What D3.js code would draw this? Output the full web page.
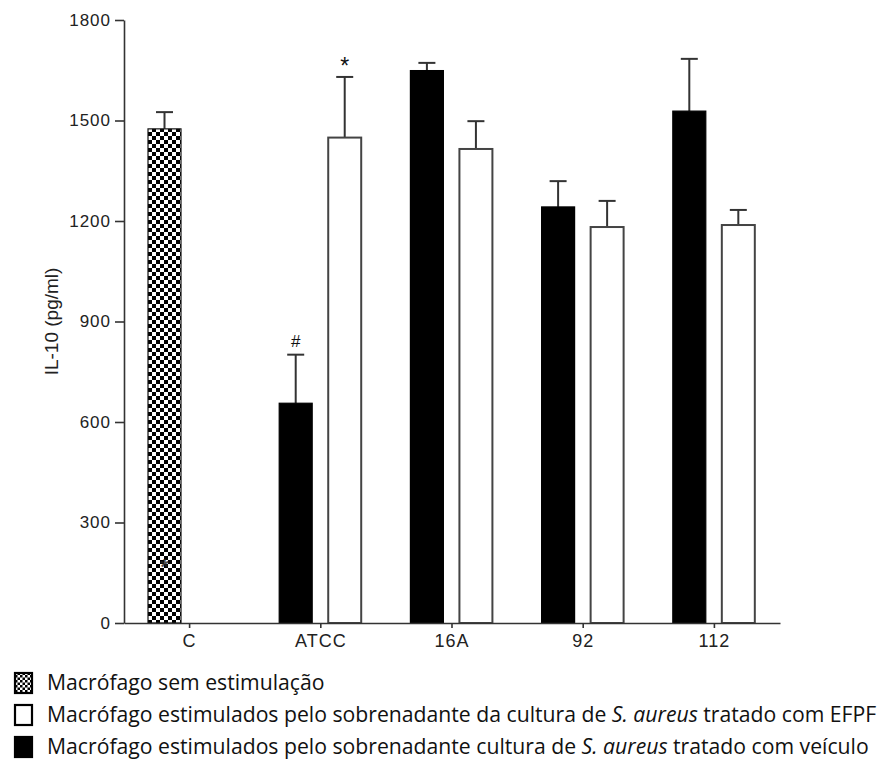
<!DOCTYPE html>
<html>
<head>
<meta charset="utf-8">
<script src="https://cdn.jsdelivr.net/npm/d3@7"></script>
<style>
  html, body { margin: 0; padding: 0; background: #fff; }
  svg { display: block; }
</style>
</head>
<body>
<svg id="chart" width="889" height="763"></svg>
<script>
// IL-10 production per group (pg/ml), mean and upper error (SEM)
const categories = ["C", "ATCC", "16A", "92", "112"];
const controlMean = [1475, null, null, null, null];
const controlErr = [50, null, null, null, null];
const vehicleMean = [null, 656, 1649, 1242, 1528];
const vehicleErr = [null, 145, 23, 77, 156];
const efpfMean = [null, 1449, 1415, 1182, 1188];
const efpfErr = [null, 181, 83, 78, 45];
const yTicks = [0, 300, 600, 900, 1200, 1500, 1800];
const yTitle = "IL-10 (pg/ml)";
// significance marks: category, series, symbol
const marks = [
  { cat: "ATCC", series: "efpf", symbol: "*" },
  { cat: "ATCC", series: "vehicle", symbol: "#" }
];
const innerMark = { cat: "C", value: 182, symbol: "*" };
const legendItems = [
  { key: "control", parts: [{ t: "Macrófago sem estimulação" }] },
  { key: "efpf", parts: [{ t: "Macrófago estimulados pelo sobrenadante da cultura de " }, { t: "S. aureus", i: true }, { t: " tratado com EFPF" }] },
  { key: "vehicle", parts: [{ t: "Macrófago estimulados pelo sobrenadante cultura de " }, { t: "S. aureus", i: true }, { t: " tratado com veículo" }] }
];

const svg = d3.select("#chart");
const axisColor = "#333";

// checkerboard fill for the unstimulated control
const defs = svg.append("defs");
function checker(id, cell) {
  const p = defs.append("pattern").attr("id", id)
    .attr("patternUnits", "userSpaceOnUse")
    .attr("width", cell * 2).attr("height", cell * 2);
  p.append("rect").attr("width", cell * 2).attr("height", cell * 2).attr("fill", "#fff");
  p.append("rect").attr("width", cell).attr("height", cell).attr("fill", "#000");
  p.append("rect").attr("x", cell).attr("y", cell).attr("width", cell).attr("height", cell).attr("fill", "#000");
}
checker("chk", 4);
checker("chkSmall", 2.5);

const plotLeft = 124, plotRight = 780, plotTop = 20, plotBottom = 623;

const x = d3.scaleBand().domain(categories).range([plotLeft, plotRight]).padding(0);
const bw = x.bandwidth();
const xs = d3.scaleBand().domain(["vehicle", "efpf"])
  .range([bw * 0.183, bw * 0.808]).paddingInner(0.327).paddingOuter(0);
const y = d3.scaleLinear().domain([0, 1800]).range([plotBottom, plotTop]);

// flatten into bar records
const bars = [];
categories.forEach((c, i) => {
  if (controlMean[i] != null) bars.push({ cat: c, series: "control", slot: "vehicle", v: controlMean[i], e: controlErr[i] });
  if (vehicleMean[i] != null) bars.push({ cat: c, series: "vehicle", slot: "vehicle", v: vehicleMean[i], e: vehicleErr[i] });
  if (efpfMean[i] != null) bars.push({ cat: c, series: "efpf", slot: "efpf", v: efpfMean[i], e: efpfErr[i] });
});
const barX = d => x(d.cat) + xs(d.slot);
const barW = xs.bandwidth();

const fills = { control: "url(#chk)", vehicle: "#000", efpf: "#fff" };
const strokes = { control: "#111", vehicle: "#000", efpf: "#444" };

// error bars (upper only), drawn under the bars
const eg = svg.append("g").attr("stroke", "#333").attr("stroke-width", 2).attr("fill", "none");
const capHalf = 8.5;
bars.forEach(d => {
  const cx = barX(d) + barW / 2;
  eg.append("line").attr("x1", cx).attr("x2", cx).attr("y1", y(d.v)).attr("y2", y(d.v + d.e));
  eg.append("line").attr("x1", cx - capHalf).attr("x2", cx + capHalf).attr("y1", y(d.v + d.e)).attr("y2", y(d.v + d.e));
});

svg.append("g").selectAll("rect").data(bars).join("rect")
  .attr("x", barX)
  .attr("y", d => y(d.v))
  .attr("width", barW)
  .attr("height", d => y(0) - y(d.v))
  .attr("fill", d => fills[d.series])
  .attr("stroke", d => strokes[d.series])
  .attr("stroke-width", d => d.series === "efpf" ? 2 : 1.2);

// significance symbols above error caps
const font = "'Liberation Sans', Arial, sans-serif";
marks.forEach(m => {
  const d = bars.find(b => b.cat === m.cat && b.series === m.series);
  const cx = barX(d) + barW / 2;
  svg.append("text").attr("x", cx).attr("y", y(d.v + d.e) - (m.symbol === "*" ? 3 : 8))
    .attr("text-anchor", "middle").attr("font-family", font)
    .attr("font-size", m.symbol === "*" ? 23 : 17).attr("fill", "#111").text(m.symbol);
});
{
  const d = bars.find(b => b.cat === innerMark.cat);
  svg.append("text").attr("x", barX(d) + barW / 2).attr("y", y(innerMark.value) + 12)
    .attr("text-anchor", "middle").attr("font-family", font).attr("font-weight", "bold")
    .attr("font-size", 22).attr("fill", "#222").attr("opacity", 0.8).text(innerMark.symbol);
}

// y axis
const yAxis = svg.append("g").attr("transform", `translate(${plotLeft},0)`)
  .call(d3.axisLeft(y).tickValues(yTicks).tickFormat(d3.format("d"))
    .tickSize(9).tickPadding(4).tickSizeOuter(0));
yAxis.select(".domain").attr("stroke", axisColor).attr("stroke-width", 1.6);
yAxis.selectAll(".tick line").attr("stroke", axisColor).attr("stroke-width", 1.6);
yAxis.selectAll(".tick text").attr("font-family", font).attr("font-size", 17)
  .attr("letter-spacing", 1).attr("fill", "#222");

// x axis
const xAxis = svg.append("g").attr("transform", `translate(0,${plotBottom})`)
  .call(d3.axisBottom(x).tickSize(5).tickPadding(6).tickSizeOuter(0));
xAxis.select(".domain").attr("stroke", axisColor).attr("stroke-width", 1.6);
xAxis.selectAll(".tick line").attr("stroke", axisColor).attr("stroke-width", 1.6);
xAxis.selectAll(".tick text").attr("font-family", font).attr("font-size", 18)
  .attr("letter-spacing", 1).attr("fill", "#222");

// y axis title
svg.append("text")
  .attr("transform", `translate(58,${(plotTop + plotBottom) / 2}) rotate(-90)`)
  .attr("text-anchor", "middle").attr("font-family", font).attr("font-size", 19)
  .attr("fill", "#222").text(yTitle);

// legend
const legend = svg.append("g");
const rowY = [690, 722, 754];
const iconFill = { control: "url(#chkSmall)", efpf: "#fff", vehicle: "#000" };
legendItems.forEach((it, i) => {
  legend.append("rect").attr("x", 15).attr("y", rowY[i] - 17).attr("width", 17).attr("height", 20)
    .attr("fill", iconFill[it.key]).attr("stroke", "#000").attr("stroke-width", 2.2);
  const t = legend.append("text").attr("x", 47).attr("y", rowY[i])
    .attr("font-family", "'Open Sans', 'Noto Sans', sans-serif").attr("font-size", 18).attr("fill", "#111");
  it.parts.forEach(p => t.append("tspan").attr("font-style", p.i ? "italic" : null).text(p.t));
});
// fit the longest legend line to its available width
const longest = legend.selectAll("text").nodes()[1];
const targetW = 830;
const w = longest.getComputedTextLength();
legend.selectAll("text").attr("font-size", 18 * targetW / w);
</script>
</body>
</html>
